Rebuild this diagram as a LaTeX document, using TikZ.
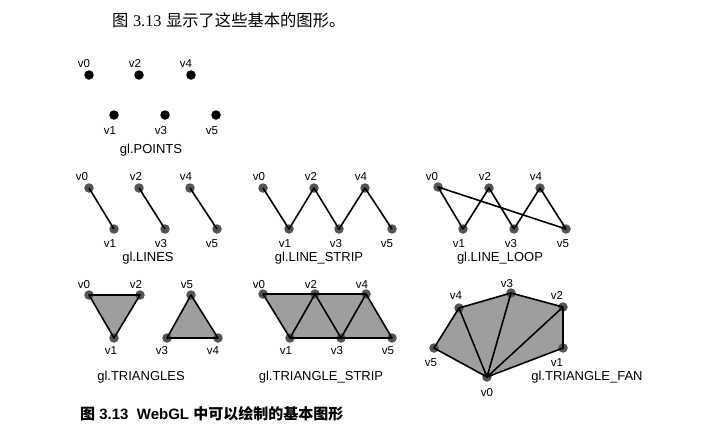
\documentclass[tikz,border=0pt]{standalone}
\usepackage{fontspec}
\usepackage{tikz}
\usetikzlibrary{backgrounds}
\setmainfont{Liberation Sans}
\newfontfamily\cjk{Noto Sans CJK SC}
\newfontfamily\serifnum{Liberation Serif}
\definecolor{dotgray}{rgb}{0.33, 0.33, 0.33}
\definecolor{facegray}{rgb}{0.62, 0.62, 0.62}

\begin{document}
\begin{tikzpicture}[x=1pt, y=-1pt,
    dot/.style={circle, fill=black, inner sep=0pt, minimum size=9.5pt},
    vtx/.style={circle, fill=dotgray, inner sep=0pt, minimum size=9.5pt},
    vlbl/.style={inner sep=0pt, text height=8pt, text depth=0pt, font=\fontsize{11.5}{13}\selectfont},
    kind/.style={inner sep=0pt, text height=9pt, text depth=2.5pt, font=\fontsize{13}{15}\selectfont},
    edge/.style={line width=1.6pt, black, line join=round},
    face/.style={fill=facegray}]
      \useasboundingbox (0, 0) rectangle (715, 429);

      \node [inner sep=0pt, font=\fontsize{16.3}{18}\selectfont, anchor=west] (intro) at (112, 20)
        {{\cjk 图} {\serifnum 3.13} {\cjk 显示了这些基本的图形。}};

      % gl.POINTS
      \node [dot] (p0) at (89, 75) {};
      \node [dot] (p2) at (139, 75) {};
      \node [dot] (p4) at (191, 75) {};
      \node [dot] (p1) at (114, 115) {};
      \node [dot] (p3) at (165, 115) {};
      \node [dot] (p5) at (216, 115) {};
      \node [vlbl] (pl0) at (84, 63) {v0};
      \node [vlbl] (pl2) at (135, 63) {v2};
      \node [vlbl] (pl4) at (186, 63) {v4};
      \node [vlbl] (pl1) at (110, 130) {v1};
      \node [vlbl] (pl3) at (161, 130) {v3};
      \node [vlbl] (pl5) at (212, 130) {v5};
      \node [kind] (points) at (151, 150) {gl.POINTS};

      % gl.LINES
      \node [vtx] (a0) at (89, 188) {};
      \node [vtx] (a2) at (139, 188) {};
      \node [vtx] (a4) at (190, 188) {};
      \node [vtx] (a1) at (114, 229) {};
      \node [vtx] (a3) at (165, 229) {};
      \node [vtx] (a5) at (217, 229) {};
      \node [vlbl] (al0) at (82, 176) {v0};
      \node [vlbl] (al2) at (136, 176) {v2};
      \node [vlbl] (al4) at (186, 176) {v4};
      \node [vlbl] (al1) at (110, 243) {v1};
      \node [vlbl] (al3) at (161, 243) {v3};
      \node [vlbl] (al5) at (212, 243) {v5};
      \node [kind] (lines) at (148, 258) {gl.LINES};
      \draw [edge] (a0.center) -- (a1.center);
      \draw [edge] (a2.center) -- (a3.center);
      \draw [edge] (a4.center) -- (a5.center);

      % gl.LINE_STRIP
      \node [vtx] (s0) at (263, 188) {};
      \node [vtx] (s2) at (314, 188) {};
      \node [vtx] (s4) at (365, 188) {};
      \node [vtx] (s1) at (289, 229) {};
      \node [vtx] (s3) at (339, 229) {};
      \node [vtx] (s5) at (392, 229) {};
      \node [vlbl] (sl0) at (259, 176) {v0};
      \node [vlbl] (sl2) at (311, 176) {v2};
      \node [vlbl] (sl4) at (361, 176) {v4};
      \node [vlbl] (sl1) at (285, 243) {v1};
      \node [vlbl] (sl3) at (336, 243) {v3};
      \node [vlbl] (sl5) at (387, 243) {v5};
      \node [kind] (strip) at (319, 258) {gl.LINE\_STRIP};
      \draw [edge] (s0.center) -- (s1.center) -- (s2.center) -- (s3.center)
        -- (s4.center) -- (s5.center);

      % gl.LINE_LOOP
      \node [vtx] (o0) at (438, 187) {};
      \node [vtx] (o2) at (489, 188) {};
      \node [vtx] (o4) at (540, 188) {};
      \node [vtx] (o1) at (463, 229) {};
      \node [vtx] (o3) at (514, 229) {};
      \node [vtx] (o5) at (566, 229) {};
      \node [vlbl] (ol0) at (432, 176) {v0};
      \node [vlbl] (ol2) at (485, 176) {v2};
      \node [vlbl] (ol4) at (536, 176) {v4};
      \node [vlbl] (ol1) at (459, 243) {v1};
      \node [vlbl] (ol3) at (511, 243) {v3};
      \node [vlbl] (ol5) at (563, 243) {v5};
      \node [kind] (loop) at (500, 258) {gl.LINE\_LOOP};
      \draw [edge] (o0.center) -- (o1.center) -- (o2.center) -- (o3.center)
        -- (o4.center) -- (o5.center) -- cycle;

      % gl.TRIANGLES
      \node [vtx] (t0) at (89, 295) {};
      \node [vtx] (t2) at (140, 295) {};
      \node [vtx] (t1) at (114, 338) {};
      \node [vtx] (t5) at (191, 295) {};
      \node [vtx] (t3) at (167, 338) {};
      \node [vtx] (t4) at (218, 338) {};
      \node [vlbl] (tl0) at (84, 284) {v0};
      \node [vlbl] (tl2) at (136, 284) {v2};
      \node [vlbl] (tl5) at (187, 284) {v5};
      \node [vlbl] (tl1) at (111, 350) {v1};
      \node [vlbl] (tl3) at (162, 350) {v3};
      \node [vlbl] (tl4) at (213, 350) {v4};
      \node [kind] (triangles) at (141, 377) {gl.TRIANGLES};
      \begin{scope}[on background layer]
        \fill [face] (t0.center) -- (t1.center) -- (t2.center) -- cycle;
        \fill [face] (t3.center) -- (t4.center) -- (t5.center) -- cycle;
      \end{scope}
      \draw [edge] (t0.center) -- (t1.center) -- (t2.center) -- cycle;
      \draw [edge] (t3.center) -- (t4.center) -- (t5.center) -- cycle;

      % gl.TRIANGLE_STRIP
      \node [vtx] (r0) at (263, 294) {};
      \node [vtx] (r2) at (315, 294) {};
      \node [vtx] (r4) at (366, 294) {};
      \node [vtx] (r1) at (290, 338) {};
      \node [vtx] (r3) at (341, 338) {};
      \node [vtx] (r5) at (392, 338) {};
      \node [vlbl] (rl0) at (259, 284) {v0};
      \node [vlbl] (rl2) at (311, 284) {v2};
      \node [vlbl] (rl4) at (362, 284) {v4};
      \node [vlbl] (rl1) at (286, 350) {v1};
      \node [vlbl] (rl3) at (337, 350) {v3};
      \node [vlbl] (rl5) at (388, 350) {v5};
      \node [kind] (tstrip) at (321, 377) {gl.TRIANGLE\_STRIP};
      \begin{scope}[on background layer]
        \fill [face] (r0.center) -- (r4.center) -- (r5.center) -- (r1.center) -- cycle;
      \end{scope}
      \draw [edge] (r0.center) -- (r4.center) -- (r5.center) -- (r1.center) -- cycle;
      \draw [edge] (r1.center) -- (r2.center) -- (r3.center) -- (r4.center);

      % gl.TRIANGLE_FAN
      \node [vtx] (f0) at (487, 377) {};
      \node [vtx] (f1) at (563, 348) {};
      \node [vtx] (f2) at (563, 307) {};
      \node [vtx] (f3) at (511, 293) {};
      \node [vtx] (f4) at (459, 308) {};
      \node [vtx] (f5) at (434, 348) {};
      \node [vlbl] (fl0) at (487, 392) {v0};
      \node [vlbl] (fl1) at (557, 362) {v1};
      \node [vlbl] (fl2) at (557, 295) {v2};
      \node [vlbl] (fl3) at (507, 283) {v3};
      \node [vlbl] (fl4) at (456, 295) {v4};
      \node [vlbl] (fl5) at (431, 362) {v5};
      \node [kind] (fan) at (587, 377) {gl.TRIANGLE\_FAN};
      \begin{scope}[on background layer]
        \fill [face] (f0.center) -- (f1.center) -- (f2.center) -- (f3.center)
          -- (f4.center) -- (f5.center) -- cycle;
      \end{scope}
      \draw [edge] (f0.center) -- (f1.center) -- (f2.center) -- (f3.center)
        -- (f4.center) -- (f5.center) -- cycle;
      \draw [edge] (f0.center) -- (f2.center);
      \draw [edge] (f0.center) -- (f3.center);
      \draw [edge] (f0.center) -- (f4.center);

      \node [inner sep=0pt, font=\fontsize{15}{17}\selectfont\bfseries, anchor=west] (caption) at (80, 414)
        {{\cjk\bfseries 图} 3.13\ \ WebGL {\cjk\bfseries 中可以绘制的基本图形}};
    \end{tikzpicture}
\end{document}
